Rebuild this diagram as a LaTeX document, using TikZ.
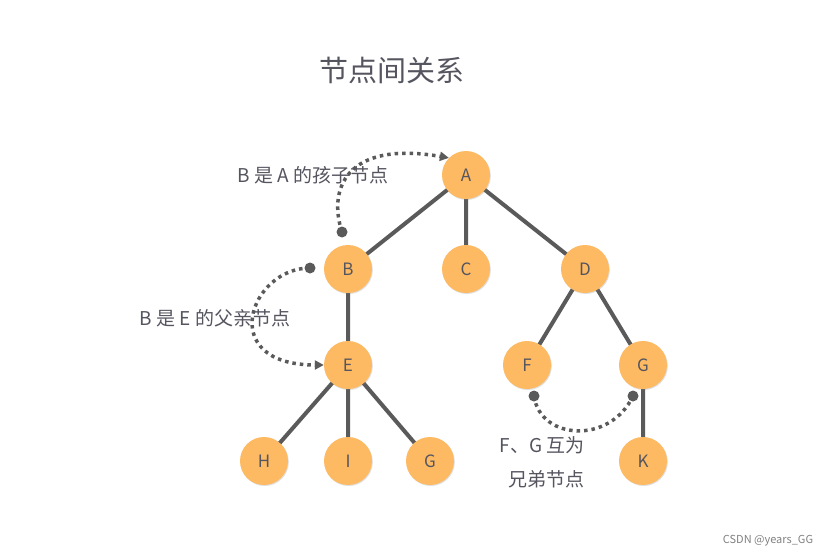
\documentclass[tikz,border=0pt]{standalone}
\usepackage{fontspec}
\setmainfont{Noto Sans CJK SC}
\usetikzlibrary{arrows.meta,shadows}
\definecolor{nodefill}{HTML}{FDBA63}
\definecolor{ink}{HTML}{5A5A5A}
\definecolor{txt}{HTML}{555560}
\begin{document}
\begin{tikzpicture}[x=1pt,y=-1pt,
  nd/.style={circle,fill=nodefill,minimum size=48pt,inner sep=0pt,text=txt,font=\fontsize{17}{17}\selectfont,drop shadow={shadow xshift=0.8pt,shadow yshift=-1pt,opacity=0.25}},
  edge/.style={ink,line width=4pt},
  dots/.style={ink,line width=3.5pt,dash pattern=on 3.5pt off 4pt},
  arr/.style={-{Triangle[length=9pt,width=9pt]}},
  lbl/.style={text=txt,font=\fontsize{19}{22}\selectfont}]
\useasboundingbox (0,0) rectangle (837,559);
\node[text=txt,font=\fontsize{29}{30}\selectfont] (title) at (392,70) {节点间关系};
\coordinate (pA) at (466,175);
\draw[edge] (pA) -- (348,269) (pA) -- (466,269) (pA) -- (585,269)
  (348,269) -- (348,365) (585,269) -- (527,365) (585,269) -- (643,365)
  (348,365) -- (264,461) (348,365) -- (348,461) (348,365) -- (430,461)
  (643,365) -- (643,461);
\node[nd] (A) at (466,175) {A};
\node[nd] (B) at (348,269) {B};
\node[nd] (C) at (466,269) {C};
\node[nd] (D) at (585,269) {D};
\node[nd] (E) at (348,365) {E};
\node[nd] (F) at (527,365) {F};
\node[nd] (G) at (643,365) {G};
\node[nd] (H) at (264,461) {H};
\node[nd] (I) at (348,461) {I};
\node[nd] (G2) at (430,461) {G};
\node[nd] (K) at (643,461) {K};
% dots
\coordinate (d1) at (342,232);
\coordinate (d2) at (310,268);
\coordinate (d3) at (534,396);
\coordinate (d4) at (633,396);
\fill[ink] (d1) circle (5.5) (d2) circle (5.5) (d3) circle (5.5) (d4) circle (5.5);
\draw[dots,arr] (d1) .. controls (328,190) and (345,140) .. (A.north west);
\draw[dots,arr] (d2) .. controls (250,268) and (215,365) .. (E.west);
\draw[dots] (d3) .. controls (540,440) and (610,445) .. (d4);
\node[lbl] (l1) at (313,175) {B 是 A 的孩子节点};
\node[lbl] (l2) at (215,318) {B 是 E 的父亲节点};
\node[lbl,fill=white,inner sep=1pt] (l3) at (542,445) {F、G 互为};
\node[lbl] (l4) at (546,479) {兄弟节点};
\node[text=gray,font=\fontsize{11}{11}\selectfont] (wm) at (768,541) {CSDN @years\_GG};
\end{tikzpicture}
\end{document}
